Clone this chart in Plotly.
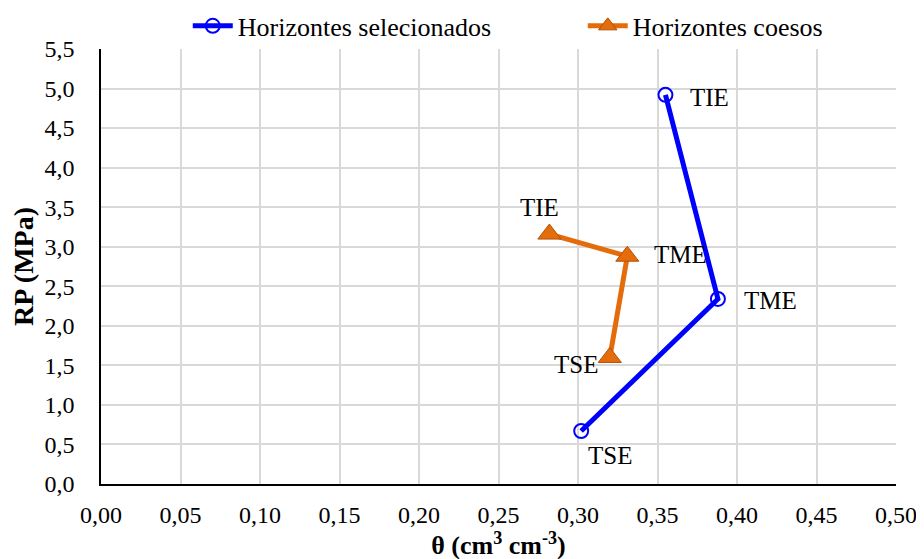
import plotly.graph_objects as go

horizons = ["TSE", "TME", "TIE"]
sel_theta = [0.302, 0.388, 0.355]
sel_rp = [0.67, 2.34, 4.92]
coe_theta = [0.320, 0.331, 0.282]
coe_rp = [1.60, 2.88, 3.16]
x_ticks = [i * 0.05 for i in range(11)]
x_tick_labels = [f"{v:.2f}".replace(".", ",") for v in x_ticks]
y_ticks = [i * 0.5 for i in range(12)]
y_tick_labels = [f"{v:.1f}".replace(".", ",") for v in y_ticks]

FONT = "Liberation Serif, Times New Roman, DejaVu Serif, serif"
BLUE = "#0000FF"
ORANGE = "#E46C0A"

fig = go.Figure()
fig.add_trace(go.Scatter(
    x=sel_theta, y=sel_rp, mode="lines+markers", name="Horizontes selecionados",
    line=dict(color=BLUE, width=5),
    marker=dict(symbol="circle-open", size=14, color=BLUE, line=dict(width=2, color=BLUE)),
))
fig.add_trace(go.Scatter(
    x=coe_theta, y=coe_rp, mode="lines+markers", name="Horizontes coesos",
    line=dict(color=ORANGE, width=5),
    marker=dict(symbol="triangle-up", size=20, color=ORANGE, line=dict(width=1, color="#B0500A")),
))

sel_offsets = [(29, -24), (53, -2), (44, -3)]
coe_offsets = [(-34, -7), (53, 2), (-10, 27)]
for name, x, y, (dx, dy) in zip(horizons, sel_theta, sel_rp, sel_offsets):
    fig.add_annotation(x=x, y=y, text=name, showarrow=False, xshift=dx, yshift=dy,
                       font=dict(family=FONT, size=25, color="black"))
for name, x, y, (dx, dy) in zip(horizons, coe_theta, coe_rp, coe_offsets):
    fig.add_annotation(x=x, y=y, text=name, showarrow=False, xshift=dx, yshift=dy,
                       font=dict(family=FONT, size=25, color="black"))

fig.update_layout(
    width=924, height=559,
    margin=dict(l=93, r=36, t=41, b=83, autoexpand=False),
    paper_bgcolor="white", plot_bgcolor="white",
    font=dict(family=FONT, size=24, color="black"),
    showlegend=True,
    legend=dict(orientation="h", x=0.606, xanchor="center", y=1.053, yanchor="middle",
                font=dict(family=FONT, size=26), itemwidth=40, entrywidth=340,
                bgcolor="rgba(0,0,0,0)"),
    xaxis=dict(
        range=[0, 0.5], tickvals=x_ticks, ticktext=x_tick_labels, automargin=False,
        showgrid=True, gridcolor="#D9D9D9", gridwidth=1.5,
        showline=True, linecolor="black", linewidth=1.5, zeroline=False,
        ticks="outside", ticklen=8, tickcolor="rgba(0,0,0,0)",
        tickfont=dict(family=FONT, size=24),
        title=dict(text="<b>θ (cm<sup>3</sup> cm<sup>-3</sup>)</b>",
                   font=dict(family=FONT, size=26), standoff=6),
    ),
    yaxis=dict(
        range=[0, 5.5], tickvals=y_ticks, ticktext=y_tick_labels, automargin=False,
        showgrid=True, gridcolor="#D9D9D9", gridwidth=1.5,
        showline=True, linecolor="black", linewidth=1.5, zeroline=False,
        ticks="outside", ticklen=20, tickcolor="rgba(0,0,0,0)",
        tickfont=dict(family=FONT, size=24),
        title=dict(text="<b>RP (MPa)</b>", font=dict(family=FONT, size=28), standoff=6),
    ),
)

fig.write_html("out.html")
